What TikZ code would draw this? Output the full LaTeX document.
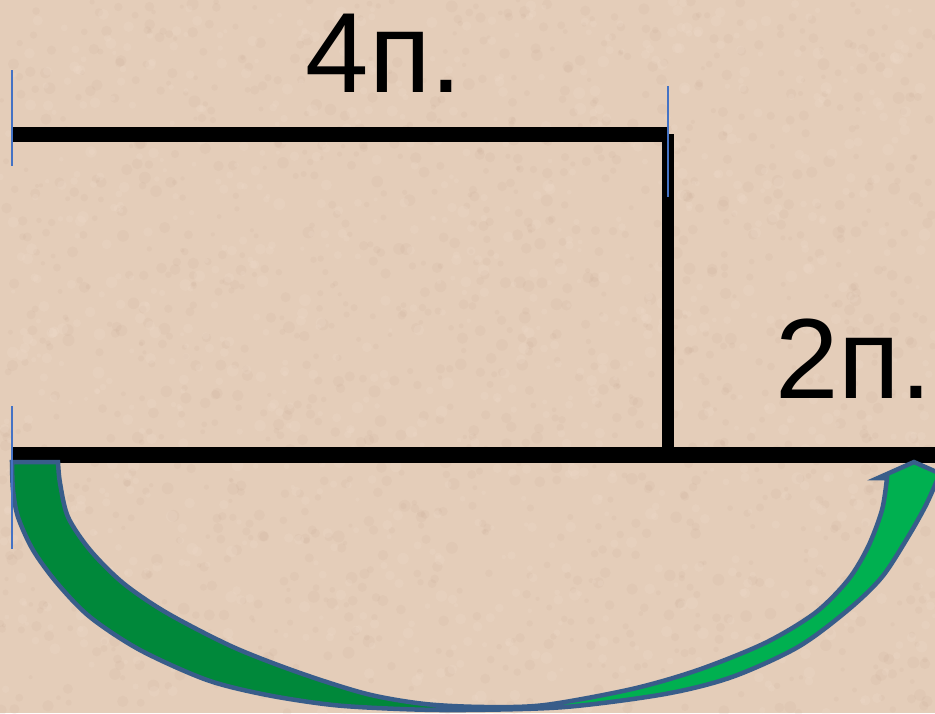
\documentclass[tikz,border=0pt]{standalone}
\usepackage{fontspec}
\setmainfont{Liberation Sans}
\definecolor{bgbeige}{RGB}{228,205,185}
\definecolor{speckdark}{RGB}{196,166,144}
\definecolor{specklight}{RGB}{242,224,208}
\definecolor{tickblue}{RGB}{68,114,196}
\definecolor{arrowline}{RGB}{56,93,138}
\definecolor{greendark}{RGB}{0,136,58}
\definecolor{greenlight}{RGB}{0,176,80}
\tikzset{
  bar/.style={line width=#1, draw=black, line cap=butt},
  tick/.style={draw=tickblue, line width=2pt},
  label/.style={anchor=base west, inner sep=0pt, text=black, font=\fontsize{114}{114}\selectfont},
}
\newcommand\arcarrowpath[1]{%
  \path[#1] plot[smooth, tension=0.5] coordinates {(58,462) (60,483) (68,517) (90,550) (123,583) (167,613) (233,647) (300,673) (367,694) (425,704) (485,707) (545,705) (632,689) (698,670) (765,643) (815,613) (848,580) (868,547) (882,510) (887,478)}
  -- (878,478) -- (914,462) -- (950,478) -- (938,478)
  -- plot[smooth, tension=0.5] coordinates {(938,478) (926,505) (908,537) (882,577) (848,610) (798,647) (732,677) (665,694) (565,707) (465,710) (400,709) (333,705) (267,695) (207,680) (140,650) (90,617) (57,583) (33,550) (18,517) (13,490) (12,462)}
  -- cycle;}
\begin{document}
\begin{tikzpicture}[x=1pt,y=-1pt]
\useasboundingbox (0,0) rectangle (935,713);
\clip (0,0) rectangle (935,713);
\fill[bgbeige] (0,0) rectangle (935,713);
% texture
\pgfmathsetseed{11}
\foreach \i in {1,...,1400}{
  \pgfmathsetmacro\xx{rnd*935}
  \pgfmathsetmacro\yy{rnd*713}
  \pgfmathsetmacro\rr{2+rnd*4}
  \fill[speckdark, opacity=0.12] (\xx,\yy) circle (\rr);
}
\foreach \i in {1,...,1000}{
  \pgfmathsetmacro\xx{rnd*935}
  \pgfmathsetmacro\yy{rnd*713}
  \pgfmathsetmacro\rr{2+rnd*4}
  \fill[specklight, opacity=0.18] (\xx,\yy) circle (\rr);
}
% coordinates of the lines
\coordinate (topL) at (12.5,134.5);
\coordinate (topR) at (668,134.5);
\coordinate (vTop) at (668,134);
\coordinate (vBot) at (668,455);
\coordinate (botL) at (12.5,455);
\coordinate (botR) at (935,455);
\coordinate (t1a) at (12,70);
\coordinate (t1b) at (12,166);
\coordinate (t2a) at (668,86);
\coordinate (t2b) at (668,197);
\coordinate (t3a) at (12,406);
\coordinate (t3b) at (12,549);
% black lines
\draw[bar=15pt] (topL) -- (topR);
\draw[bar=12pt] (vTop) -- (vBot);
\draw[bar=16pt] (botL) -- (botR);
% green curved arrow
\arcarrowpath{fill=greenlight}
\begin{scope}
  \clip (0,0) rectangle (470,713);
  \arcarrowpath{fill=greendark}
\end{scope}
\arcarrowpath{draw=arrowline, line width=4.5pt, line join=miter}
% blue ticks
\draw[tick] (t1a) -- (t1b);
\draw[tick] (t2a) -- (t2b);
\draw[tick] (t3a) -- (t3b);
% labels
\node[label] (four) at (305.5,92) {4п.};
\node[label] (two) at (775,398) {2п.\kern-0.09em};
\end{tikzpicture}
\end{document}
